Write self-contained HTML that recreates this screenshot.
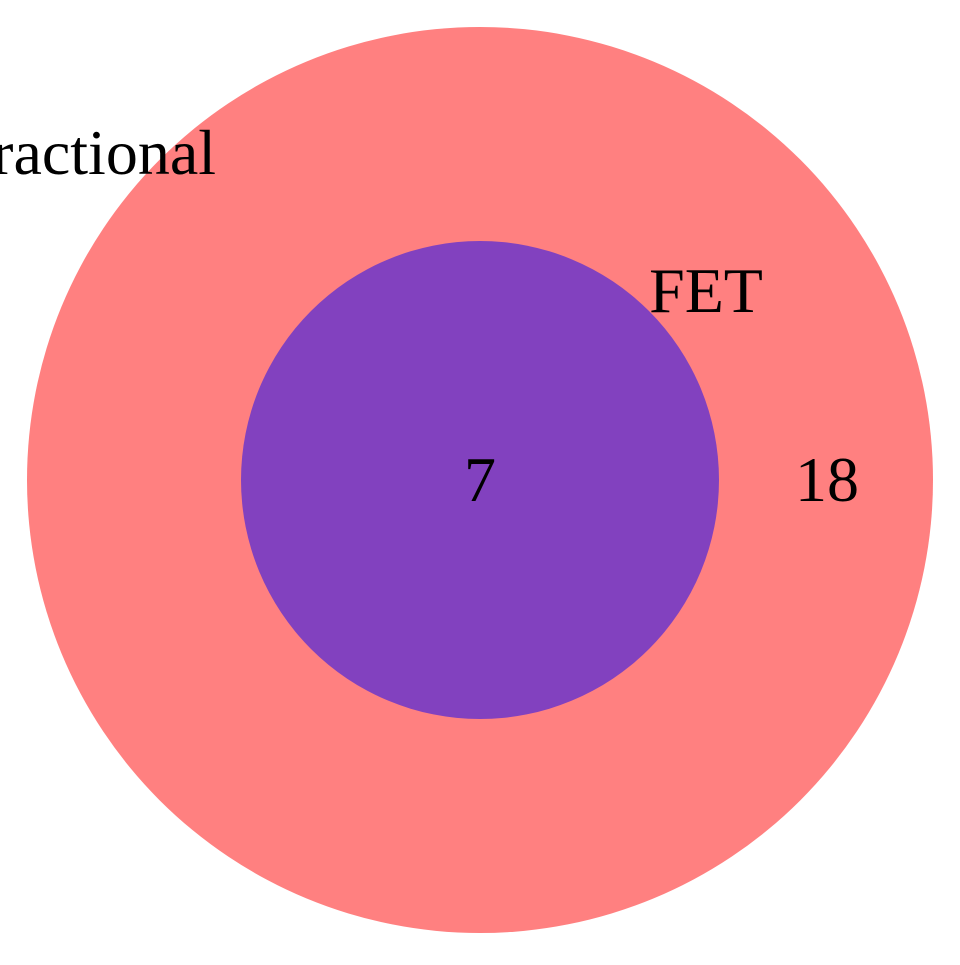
<!DOCTYPE html>
<html><head><style>html,body{margin:0;padding:0;background:#fff}</style></head>
<body>
<svg width="960" height="960" viewBox="0 0 960 960" xmlns="http://www.w3.org/2000/svg">
<rect width="960" height="960" fill="#fff"/>
<circle cx="480" cy="480" r="453" fill="#FF8080"/>
<circle cx="480" cy="480" r="239" fill="#8241BF"/>
<g font-family="Liberation Serif, serif" font-size="64" fill="#000">
<text x="216" y="174" text-anchor="end">ractional</text>
<text x="706" y="312" text-anchor="middle">FET</text>
<text x="480" y="501" text-anchor="middle">7</text>
<text x="827" y="501" text-anchor="middle">18</text>
</g>
</svg>
</body></html>
